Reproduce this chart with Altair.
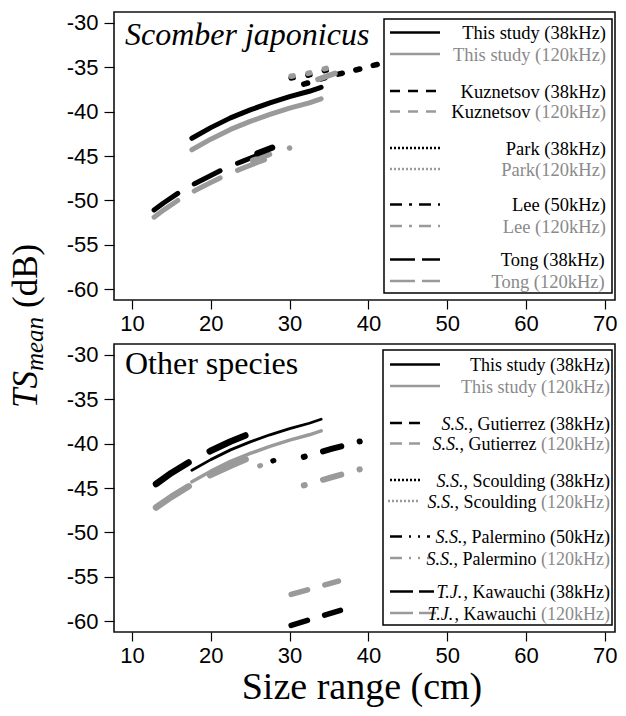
import altair as alt
import pandas as pd

# ---------------- values ----------------
# Upper panel: Scomber japonicus  (length in cm, TS in dB)
this_len = [17.6, 20, 22.5, 25, 27.5, 30, 32.5, 34.0]
this_ts_38 = [-43.0, -41.8, -40.7, -39.8, -39.0, -38.3, -37.7, -37.25]
this_ts_120 = [-44.3, -43.1, -42.0, -41.1, -40.3, -39.6, -39.0, -38.55]

kuz_len_38 = [31.8, 34.0, 36.0, 38.0, 40.3, 41.5]
kuz_ts_38 = [-36.9, -36.3, -35.8, -35.4, -34.85, -34.6]
kuz_len_120 = [33.6, 36.0]
kuz_ts_120 = [-36.35, -35.6]

park_len = [30.2, 32.3, 34.3, 36.4]
park_ts_38 = [-36.2, -35.9, -35.4, -34.9]
park_ts_120 = [-36.0, -35.7, -35.2, -34.7]

lee_len_50 = [25.9, 27.8]
lee_ts_50 = [-44.7, -44.05]
lee_len_120 = [25.3, 27.5, 30.0]
lee_ts_120 = [-45.5, -44.8, -44.1]

tong_len = [12.8, 14, 16, 18, 20, 22, 24, 26, 27.5]
tong_ts_38 = [-51.1, -50.3, -49.1, -48.1, -47.2, -46.3, -45.6, -44.9, -44.4]
tong_ts_120 = [-51.9, -51.1, -49.9, -48.9, -48.0, -47.1, -46.4, -45.7, -45.2]

# Lower panel: other species
pal_len = [13.05, 15, 17.5, 20, 22.5, 25, 27.05]
pal_ts_50 = [-44.55, -43.3, -41.95, -40.8, -39.75, -38.85, -38.15]
pal_ts_120 = [-47.2, -46.0, -44.65, -43.5, -42.5, -41.55, -40.85]

sco_len = [26.2, 27.85, 29.5]
sco_ts_38 = [-42.5, -41.95, -41.4]
sco_ts_120 = [-42.5, -41.95, -41.4]

gut_len = [31.8, 35.3, 38.9]
gut_ts_38 = [-41.5, -40.6, -39.75]
gut_ts_120 = [-44.7, -43.8, -42.9]

kaw_len_38 = [30.2, 33.3, 36.45]
kaw_ts_38 = [-60.5, -59.65, -58.8]
kaw_len_120 = [30.2, 33.2, 36.2]
kaw_ts_120 = [-57.0, -56.25, -55.5]

x_ticks = [10, 20, 30, 40, 50, 60, 70]
y_ticks = [-60, -55, -50, -45, -40, -35, -30]

# ---------------- styling ----------------
SERIF = "Liberation Serif"
SANS = "Liberation Sans"
BLACK = "#000000"
GRAY = "#9a9a9a"
GRAY_TXT = "#8a8a8a"
W, H = 501, 288
X_LO = 7.716
X_HI = X_LO + W / 7.88

ROMAN = {" ": 250, "(": 333, ")": 333, ",": 250, ".": 250, "-": 333,
         "A": 722, "B": 667, "C": 667, "D": 722, "E": 611, "F": 556, "G": 722,
         "H": 722, "I": 333, "J": 389, "K": 722, "L": 611, "M": 889, "N": 722,
         "O": 722, "P": 556, "Q": 722, "R": 667, "S": 556, "T": 611, "U": 722,
         "V": 722, "W": 944, "X": 722, "Y": 722, "Z": 611,
         "a": 444, "b": 500, "c": 444, "d": 500, "e": 444, "f": 333, "g": 500,
         "h": 500, "i": 278, "j": 278, "k": 500, "l": 278, "m": 778, "n": 500,
         "o": 500, "p": 500, "q": 500, "r": 333, "s": 389, "t": 278, "u": 500,
         "v": 500, "w": 722, "x": 500, "y": 500, "z": 444}
ITALIC = dict(ROMAN)
ITALIC.update({"S": 500, "T": 556, "J": 444, "a": 500, "f": 278, "k": 444,
               "m": 722, "r": 389, "v": 444, "w": 667, "x": 444, "y": 444, "z": 389})


def tw(s, italic, size):
    tab = ITALIC if italic else ROMAN
    return sum(tab.get(c, 500) for c in s) * size / 1000.0


one = pd.DataFrame({"k": [0]})
xscale = alt.Scale(domain=[X_LO, X_HI], nice=False, zero=False)
yscale = alt.Scale(domain=[-61.24, -28.76], nice=False, zero=False)
xaxis = alt.Axis(values=x_ticks, title=None, labelExpr="datum.value + ''")
yaxis = alt.Axis(values=y_ticks, title=None, labelExpr="datum.value + ''")


def series_layer(xs, ys, color, width, dash=None, offset=None):
    df = pd.DataFrame({"L": xs, "TS": ys})
    kw = dict(color=color, strokeWidth=width, strokeCap="round", strokeJoin="round")
    if dash:
        kw["strokeDash"] = dash
    if offset:
        kw["strokeDashOffset"] = offset
    return alt.Chart(df).mark_line(**kw).encode(
        x=alt.X("L:Q", scale=xscale, axis=xaxis),
        y=alt.Y("TS:Q", scale=yscale, axis=yaxis),
    )


def text_layer(t, x, y, size, italic=False, color=BLACK, align="left", angle=None):
    kw = dict(text=t, font=SERIF, fontSize=size, fontStyle="italic" if italic else "normal",
              color=color, align=align, baseline="alphabetic")
    if angle is not None:
        kw["angle"] = angle
    return alt.Chart(one).mark_text(**kw).encode(x=alt.value(x), y=alt.value(y))


ROW_Y = [20.5, 42, 79, 99.5, 136, 157, 192.5, 214, 247.5, 269]


def legend_layers(box, samples, rows, right_x, size=18.5):
    x1, x2, y1, y2 = box
    layers = [alt.Chart(one).mark_rect(fill="white", stroke="black", strokeWidth=1.5).encode(
        x=alt.value(x1), x2=alt.value(x2), y=alt.value(y1), y2=alt.value(y2))]
    for (color, dash, sx1, sx2), yc in zip(samples, ROW_Y):
        kw = dict(color=color, strokeWidth=2.6)
        if dash:
            kw["strokeDash"] = dash
        layers.append(alt.Chart(one).mark_rule(**kw).encode(
            x=alt.value(sx1), x2=alt.value(sx2), y=alt.value(yc)))
    for segs, yc in zip(rows, ROW_Y):
        total = sum(tw(t, it, size) for t, it, c in segs)
        x = right_x - total
        for t, it, c in segs:
            layers.append(text_layer(t, x, yc + 6.5, size, it, c))
            x += tw(t, it, size)
    return layers


# ---------------- upper panel ----------------
top_series = [
    series_layer(park_len, park_ts_38, BLACK, 5.5, [2, 15]),
    series_layer(park_len, park_ts_120, GRAY, 5.5, [2, 15]),
    series_layer(kuz_len_38, kuz_ts_38, BLACK, 5.5, [4, 14]),
    series_layer(kuz_len_120, kuz_ts_120, GRAY, 5.5, [18, 30]),
    series_layer(this_len, this_ts_120, GRAY, 5),
    series_layer(this_len, this_ts_38, BLACK, 5),
    series_layer(tong_len, tong_ts_120, GRAY, 5, [29, 19]),
    series_layer(tong_len, tong_ts_38, BLACK, 5, [29, 19]),
    series_layer(lee_len_120, lee_ts_120, GRAY, 5.5, [18, 21, 1, 20]),
    series_layer(lee_len_50, lee_ts_50, BLACK, 6, [30, 10, 2, 10]),
]
top_samples = [
    (BLACK, None, 276, 326), (GRAY, None, 276, 326),
    (BLACK, [10, 8], 276, 326), (GRAY, [10, 8], 276, 326),
    (BLACK, [2, 2], 276, 328), (GRAY, [2, 2], 276, 328),
    (BLACK, [12, 7, 3, 7], 276, 326), (GRAY, [12, 7, 3, 7], 276, 326),
    (BLACK, [25, 7], 276, 326), (GRAY, [25, 7], 276, 326),
]
top_rows = [
    [("This study (38kHz)", False, BLACK)],
    [("This study (120kHz)", False, GRAY_TXT)],
    [("Kuznetsov (38kHz)", False, BLACK)],
    [("Kuznetsov ", False, BLACK), ("(120kHz)", False, GRAY_TXT)],
    [("Park (38kHz)", False, BLACK)],
    [("Park(120kHz)", False, GRAY_TXT)],
    [("Lee (50kHz)", False, BLACK)],
    [("Lee (120kHz)", False, GRAY_TXT)],
    [("Tong (38kHz)", False, BLACK)],
    [("Tong (120kHz)", False, GRAY_TXT)],
]

# y-axis title (rotated, drawn as text)
yt_x = -77
yt_y = 396
ts_w = tw("TS", True, 35)
mean_w = tw("mean", True, 25)
ytitle = [
    text_layer("TS", yt_x, yt_y, 35, True, angle=270),
    text_layer("mean", yt_x + 6, yt_y - ts_w, 25, True, angle=270),
    text_layer("(dB)", yt_x, yt_y - ts_w - mean_w - 9, 35, False, angle=270),
]

top = alt.layer(
    *top_series,
    *legend_layers((270, 498, 7, 281), top_samples, top_rows, 492),
    text_layer("Scomber japonicus", 11, 33, 32, True),
    *ytitle,
).properties(width=W, height=H)

# ---------------- lower panel ----------------
bot_series = [
    series_layer(pal_len, pal_ts_120, GRAY, 6.5, [39, 24]),
    series_layer(pal_len, pal_ts_50, BLACK, 6.5, [39, 24]),
    series_layer(this_len, this_ts_120, GRAY, 3.5),
    series_layer(this_len, this_ts_38, BLACK, 2.8),
    series_layer(sco_len, sco_ts_120, GRAY, 5, [1, 13.1]),
    series_layer(sco_len, sco_ts_38, BLACK, 5, [1, 27.2], 14.1),
    series_layer(gut_len, gut_ts_120, GRAY, 6, [1, 19, 19, 19]),
    series_layer(gut_len, gut_ts_38, BLACK, 6, [1, 19, 19, 19]),
    series_layer(kaw_len_120, kaw_ts_120, GRAY, 5.5, [17, 18]),
    series_layer(kaw_len_38, kaw_ts_38, BLACK, 5.5, [17, 18]),
]
bot_samples = [
    (BLACK, None, 276, 326), (GRAY, None, 276, 326),
    (BLACK, [12, 7], 276, 306), (GRAY, [12, 7], 276, 306),
    (BLACK, [2, 2], 276, 306), (GRAY, [2, 2], 274, 304),
    (BLACK, [12, 7, 2, 7, 2, 7], 276, 316), (GRAY, [12, 7, 2, 7, 2, 7], 276, 316),
    (BLACK, [23, 6], 276, 320), (GRAY, [23, 6], 276, 322),
]
bot_rows = [
    [("This study (38kHz)", False, BLACK)],
    [("This study (120kHz)", False, GRAY_TXT)],
    [("S.S.", True, BLACK), (", Gutierrez (38kHz)", False, BLACK)],
    [("S.S.", True, BLACK), (", Gutierrez ", False, BLACK), ("(120kHz)", False, GRAY_TXT)],
    [("S.S.", True, BLACK), (", Scoulding (38kHz)", False, BLACK)],
    [("S.S.", True, BLACK), (", Scoulding ", False, BLACK), ("(120kHz)", False, GRAY_TXT)],
    [("S.S.", True, BLACK), (", Palermino (50kHz)", False, BLACK)],
    [("S.S.", True, BLACK), (", Palermino ", False, BLACK), ("(120kHz)", False, GRAY_TXT)],
    [("T.J.", True, BLACK), (", Kawauchi (38kHz)", False, BLACK)],
    [("T.J.", True, BLACK), (", Kawauchi ", False, BLACK), ("(120kHz)", False, GRAY_TXT)],
]

bottom = alt.layer(
    *bot_series,
    *legend_layers((269, 498, 6, 281), bot_samples, bot_rows, 496, size=18),
    text_layer("Other species", 11, 30, 32, False),
    text_layer("Size range (cm)", 248, 355, 38, False, align="center"),
).properties(width=W, height=H)

chart = alt.vconcat(top, bottom, spacing=44, bounds="flush").properties(
    padding={"left": 0, "top": 3, "right": 0, "bottom": 0}
).configure_view(
    stroke="#111111", strokeWidth=1.6
).configure_axis(
    labelFont=SANS, labelFontSize=22, labelColor="black",
    tickColor="black", tickWidth=1.2, domain=False, grid=False,
).configure_axisX(tickSize=9, labelPadding=4).configure_axisY(tickSize=10, labelPadding=6)

chart.save("out.html", embed_options={"renderer": "svg", "actions": False})
